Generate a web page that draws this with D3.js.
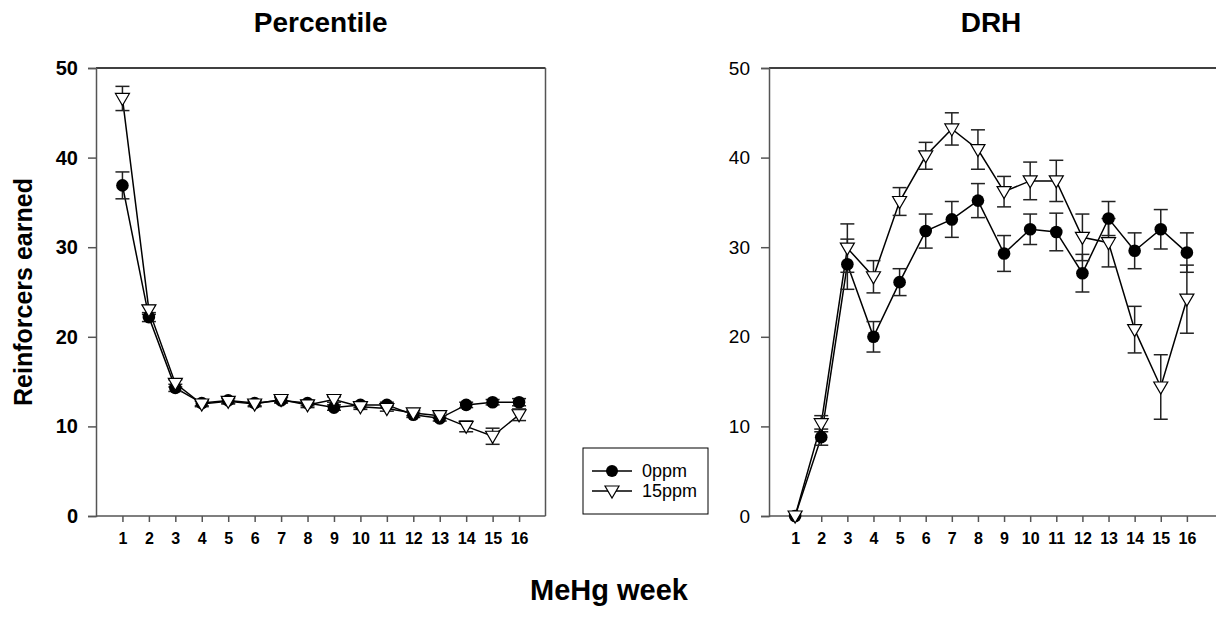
<!DOCTYPE html>
<html><head><meta charset="utf-8">
<script src="https://cdn.jsdelivr.net/npm/d3@7"></script>
<style>body{margin:0;background:#fff}svg{display:block}text{font-family:"Liberation Sans",Arial,sans-serif}</style>
</head><body>
<svg id="c" width="1216" height="636"></svg>
<script>
const weeks = [1,2,3,4,5,6,7,8,9,10,11,12,13,14,15,16];
const yTicks = [0,10,20,30,40,50];
const seriesNames = ["0ppm","15ppm"];
// Percentile panel
const pct0 = [36.9,22.2,14.3,12.6,12.9,12.6,12.9,12.6,12.1,12.4,12.4,11.3,10.9,12.4,12.7,12.7];
const pct0Err = [1.5,0.5,0.4,0.3,0.3,0.3,0.3,0.3,0.3,0.3,0.3,0.3,0.3,0.3,0.3,0.4];
const pct15 = [46.6,23.0,14.8,12.5,12.8,12.5,13.0,12.4,13.0,12.2,12.0,11.5,11.2,10.0,8.9,11.3];
const pct15Err = [1.35,0.5,0.4,0.3,0.3,0.3,0.3,0.3,0.3,0.3,0.3,0.3,0.3,0.6,0.9,0.65];
// DRH panel
const drh0 = [0,8.8,28.1,20.0,26.1,31.8,33.1,35.2,29.3,32.0,31.7,27.1,33.2,29.6,32.0,29.4];
const drh0Err = [0,0.9,2.8,1.7,1.5,1.9,2.0,1.9,2.0,1.7,2.1,2.1,1.9,2.0,2.2,2.2];
const drh15 = [0,10.3,29.9,26.7,35.1,40.2,43.2,40.9,36.2,37.4,37.4,31.1,30.5,20.8,14.4,24.2];
const drh15Err = [0,0.9,2.7,1.8,1.55,1.5,1.8,2.2,1.7,2.1,2.3,2.6,2.7,2.6,3.6,3.8];

const FONT = '"Liberation Sans",Arial,sans-serif';
const svg = d3.select("#c");
const y = d3.scaleLinear().domain([0,50]).range([516,68]);
const AX = "#555";

function panel(opts){
  const x = d3.scaleLinear().domain([0,17]).range([opts.x0, opts.x1]);
  const g = svg.append("g");
  // frame
  g.append("line").attr("x1",opts.x0).attr("x2",opts.frameRight).attr("y1",68).attr("y2",68).attr("stroke","#000").attr("stroke-width",1.5);
  if(opts.rightBorder) g.append("line").attr("x1",opts.x1).attr("x2",opts.x1).attr("y1",68).attr("y2",516).attr("stroke",AX).attr("stroke-width",1.5);
  // y axis
  const ya = g.append("g").attr("transform",`translate(${opts.x0},0)`)
    .call(d3.axisLeft(y).tickValues(yTicks).tickSize(8).tickPadding(opts.boldY?10:11).tickFormat(d3.format("d")));
  ya.select(".domain").attr("stroke",AX).attr("stroke-width",1.5);
  ya.selectAll(".tick line").attr("stroke",AX).attr("stroke-width",1.5);
  ya.selectAll(".tick text").attr("fill","#000").style("font-size",opts.boldY?"20px":"19px").style("font-weight",opts.boldY?"bold":"normal")
    .style("font-family",FONT);
  // x axis
  const xa = g.append("g").attr("transform","translate(0,516)")
    .call(d3.axisBottom(x).tickValues(weeks).tickSize(6).tickPadding(11).tickFormat(d3.format("d")));
  xa.select(".domain").attr("stroke",AX).attr("stroke-width",1.5).attr("d",`M${opts.x0},0H${opts.frameRight}`);
  xa.selectAll(".tick line").attr("stroke",AX).attr("stroke-width",1.5);
  xa.selectAll(".tick text").attr("fill","#000").style("font-size","16px").style("font-weight","bold")
    .style("font-family",FONT);
  // title
  g.append("text").attr("x",(opts.x0+opts.x1)/2).attr("y",32).attr("text-anchor","middle")
    .style("font-size","28px").style("font-weight","bold").text(opts.title);

  const line = d3.line().x((d,i)=>x(weeks[i])).y(d=>y(d));
  const sets = [{v:opts.s0,e:opts.e0,type:"circle"},{v:opts.s1,e:opts.e1,type:"tri"}];
  sets.forEach(s=>{
    g.append("path").attr("d",line(s.v)).attr("fill","none").attr("stroke","#000").attr("stroke-width",1.5);
  });
  sets.forEach(s=>{
    const eb = g.append("g").attr("stroke","#222").attr("stroke-width",1.5);
    s.v.forEach((v,i)=>{
      if(s.e[i]<=0) return;
      const cx = x(weeks[i]);
      const t = y(v+s.e[i]), b = y(v-s.e[i]);
      eb.append("line").attr("x1",cx).attr("x2",cx).attr("y1",t).attr("y2",b);
      eb.append("line").attr("x1",cx-7).attr("x2",cx+7).attr("y1",t).attr("y2",t);
      eb.append("line").attr("x1",cx-7).attr("x2",cx+7).attr("y1",b).attr("y2",b);
    });
  });
  sets.forEach(s=>{
    s.v.forEach((v,i)=>{
      const cx = x(weeks[i]), cy = y(v);
      if(s.type==="circle"){
        g.append("circle").attr("cx",cx).attr("cy",cy).attr("r",6.3).attr("fill","#000");
      } else {
        g.append("path").attr("d",`M${cx-7},${cy-5}L${cx+7},${cy-5}L${cx},${cy+7}Z`)
          .attr("fill","#fff").attr("stroke","#000").attr("stroke-width",1.2);
      }
    });
  });
}

panel({x0:96,x1:545.5,frameRight:545.5,rightBorder:true,title:"Percentile",boldY:true,s0:pct0,e0:pct0Err,s1:pct15,e1:pct15Err});
panel({x0:769,x1:1213,frameRight:1216,rightBorder:false,title:"DRH",boldY:false,s0:drh0,e0:drh0Err,s1:drh15,e1:drh15Err});

// axis titles
svg.append("text").attr("transform","translate(32,292) rotate(-90)").attr("text-anchor","middle")
  .style("font-size","25px").style("font-weight","bold").text("Reinforcers earned");
svg.append("text").attr("x",609).attr("y",600).attr("text-anchor","middle")
  .style("font-size","29px").style("font-weight","bold").text("MeHg week");

// legend
const lg = svg.append("g");
lg.append("rect").attr("x",583).attr("y",448).attr("width",125).attr("height",66).attr("fill","#fff").attr("stroke","#000").attr("stroke-width",1);
seriesNames.forEach((n,i)=>{
  const ly = 471 + i*20;
  lg.append("line").attr("x1",592).attr("x2",632).attr("y1",ly).attr("y2",ly).attr("stroke","#000").attr("stroke-width",1.5);
  if(i===0) lg.append("circle").attr("cx",612).attr("cy",ly).attr("r",6).attr("fill","#000");
  else lg.append("path").attr("d",`M${605},${ly-5}L${619},${ly-5}L${612},${ly+7}Z`).attr("fill","#fff").attr("stroke","#000").attr("stroke-width",1.2);
  lg.append("text").attr("x",642).attr("y",ly+6).style("font-size","18px").text(n);
});
</script>
</body></html>
